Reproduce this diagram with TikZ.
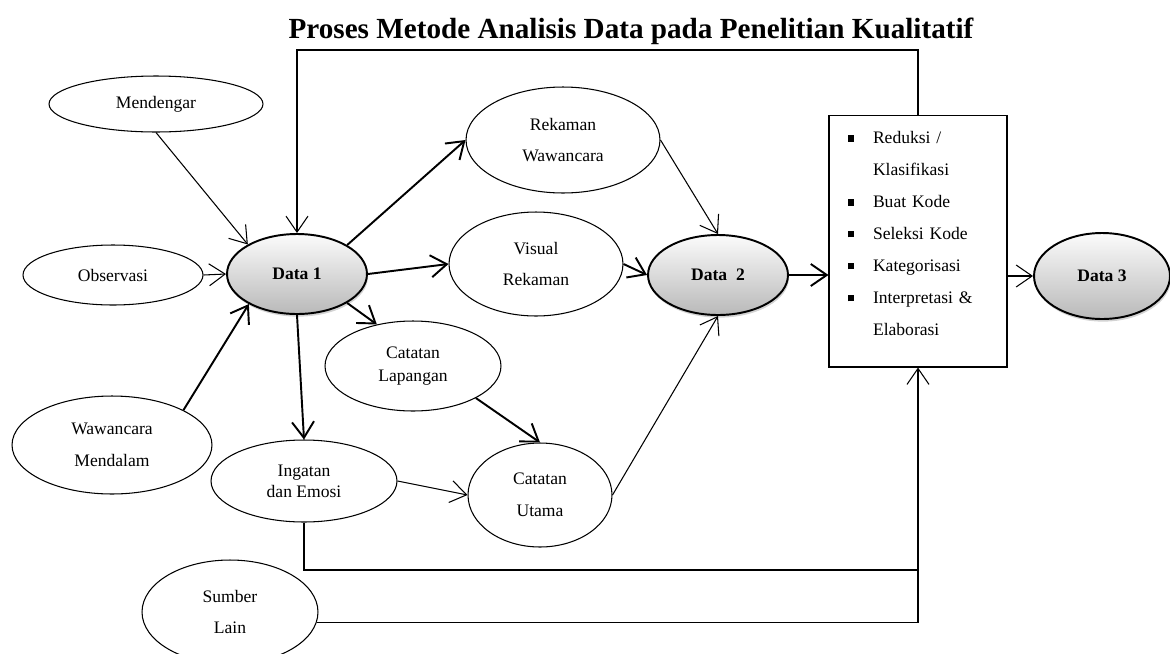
\documentclass[tikz,border=0pt]{standalone}
\usepackage{fontspec}
\setmainfont{Liberation Serif}
\usetikzlibrary{arrows.meta,shapes.geometric,shadows}
\newcommand{\butir}{\makebox[0.6cm][l]{\hspace{0.1cm}\rule[0.3ex]{3.5pt}{3.5pt}}}
\newcommand{\kosong}{\makebox[0.6cm][l]{}}

\begin{document}
\begin{tikzpicture}[x=0.02cm,y=-0.02cm,
    >={Straight Barb[length=3.2mm,width=4.4mm]},
    oval/.style={ellipse,draw,line width=0.6pt,inner sep=0pt,align=center,font=\fontsize{10}{12}\selectfont},
    dataoval/.style={oval,line width=1.1pt,top color=gray!3,bottom color=gray!55,
        drop shadow={opacity=0.35,shadow xshift=0.6pt,shadow yshift=-1.5pt},font=\fontsize{10}{12}\selectfont\bfseries},
    tipis/.style={->,line width=0.6pt},
    tebal/.style={->,line width=1.1pt}]
        \useasboundingbox (0,0) rectangle (1170,653);
        \clip (0,0) rectangle (1170,653);
        \node[font=\fontsize{16.6}{18}\selectfont\bfseries] (judul) at (631,31) {Proses Metode Analisis Data pada Penelitian Kualitatif};
        % sumber data
        \node[oval,minimum width=4.28cm,minimum height=1.12cm] (mendengar) at (156,104) {Mendengar};
        \node[oval,minimum width=3.6cm,minimum height=1.2cm] (observasi) at (113,275) {Observasi};
        \node[oval,minimum width=4.0cm,minimum height=1.96cm] (wawancara) at (112,445) {Wawancara\\[6pt]Mendalam};
        \node[oval,minimum width=3.52cm,minimum height=2.08cm] (sumber) at (230,612) {Sumber\\[6pt]Lain};
        \node[dataoval,minimum width=2.8cm,minimum height=1.6cm] (data1) at (297,274) {Data 1};
        % olahan
        \node[oval,minimum width=3.88cm,minimum height=2.12cm] (rekaman) at (563,140) {Rekaman\\[6pt]Wawancara};
        \node[oval,minimum width=3.48cm,minimum height=2.08cm] (visual) at (536,264) {Visual\\[6pt]Rekaman};
        \node[oval,minimum width=3.52cm,minimum height=1.8cm] (lapangan) at (413,366) {Catatan\\[1pt]Lapangan};
        \node[oval,minimum width=3.72cm,minimum height=1.64cm] (ingatan) at (304,481) {Ingatan\\dan Emosi};
        \node[oval,minimum width=2.88cm,minimum height=2.08cm] (utama) at (540,495) {Catatan\\[6pt]Utama};
        \node[dataoval,minimum width=2.8cm,minimum height=1.6cm] (data2) at (718,275) {Data\ \ 2};
        % analisis
        \node[draw,line width=0.6pt,minimum width=3.56cm,minimum height=5.04cm,text width=3.0cm,inner xsep=0.28cm,
            align=left,font=\fontsize{10}{18.2}\selectfont] (proses) at (918,241)
            {\butir Reduksi /\\ \kosong Klasifikasi\\ \butir Buat Kode\\ \butir Seleksi Kode\\
             \butir Kategorisasi\\ \butir Interpretasi \&\\ \kosong Elaborasi\\[-10pt]\mbox{}};
        \node[dataoval,minimum width=2.72cm,minimum height=1.72cm] (data3) at (1102,276) {Data 3};
        \coordinate (atas) at (297,50);
        \coordinate (bawah) at (918,570);
        % panah
        \draw[tipis] (proses.north) |- (atas) -- (data1.north);
        \draw[tipis] (mendengar.south) -- (data1.149);
        \draw[tipis] (observasi.east) -- (data1.west);
        \draw[tebal] (wawancara.26) -- (data1.212);
        \draw[tebal] (data1.30) -- (rekaman.west);
        \draw[tebal] (data1.east) -- (visual.west);
        \draw[tebal] (data1.-30) -- (lapangan.131);
        \draw[tebal] (data1.south) -- (ingatan.north);
        \draw[tebal] (lapangan.-27) -- (utama.north);
        \draw[tipis] (ingatan.east) -- (utama.west);
        \draw[tipis] (rekaman.east) -- (data2.north);
        \draw[tebal] (visual.east) -- (data2.west);
        \draw[tipis] (utama.east) -- (data2.south);
        \draw[tebal] (data2.east) -- (data2.east -| proses.west);
        \draw[tipis] (data3.west -| proses.east) -- (data3.west);
        \draw[line width=0.6pt] (ingatan.south) |- (bawah);
        \draw[tipis] (sumber.-7) -| (proses.south);
\end{tikzpicture}
\end{document}
